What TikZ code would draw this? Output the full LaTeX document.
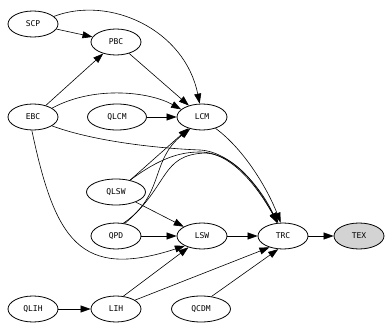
\documentclass[tikz,border=0pt]{standalone}
\usepackage{fontspec}
\newfontfamily\gvfont{DejaVu Sans Mono}
\usetikzlibrary{shapes.geometric,arrows.meta}
\definecolor{texgray}{HTML}{D3D3D3}
\begin{document}
\begin{tikzpicture}[x=1pt,y=-1pt,
  gv/.style={ellipse,draw,line width=0.8pt,minimum width=50pt,minimum height=26pt,inner sep=0pt,font=\gvfont\fontsize{8}{8}\selectfont},
  wide/.style={minimum width=59pt},
  edge/.style={line width=0.6pt,-{Triangle[length=10pt,width=7pt]}}]
\useasboundingbox (0,0) rectangle (389,329);
\node[gv] (SCP) at (33,24) {SCP};
\node[gv] (PBC) at (116,42) {PBC};
\node[gv] (EBC) at (33,117) {EBC};
\node[gv,wide] (QLCM) at (117,117) {QLCM};
\node[gv] (LCM) at (202,117) {LCM};
\node[gv,wide] (QLSW) at (116,192) {QLSW};
\node[gv] (QPD) at (116,236) {QPD};
\node[gv] (LSW) at (202,236) {LSW};
\node[gv] (TRC) at (283,236) {TRC};
\node[gv,fill=texgray] (TEX) at (359,236) {TEX};
\node[gv] (QLIH) at (33,309) {QLIH};
\node[gv] (LIH) at (116,309) {LIH};
\node[gv,wide] (QCDM) at (201,309) {QCDM};

\draw[edge] (SCP) -- (PBC);
\draw[edge] (SCP.20) .. controls (110,-5) and (185,30) .. (LCM.100);
\draw[edge] (PBC) -- (LCM);
\draw[edge] (EBC) -- (PBC);
\draw[edge] (EBC.25) .. controls (95,85) and (150,92) .. (LCM.160);
\draw[edge] (QLCM) -- (LCM);
\draw[edge] (EBC.-25) .. controls (90,140) and (150,148) .. (200,150) .. controls (235,152) and (265,195) .. (TRC.115);
\draw[edge] (EBC.-95) .. controls (55,240) and (80,280) .. (LSW.-150);
\draw[edge] (QLSW.40) -- (LCM.-140);
\draw[edge] (QLSW) -- (LSW);
\draw[edge] (QLSW.40) .. controls (160,158) and (180,152) .. (200,152) .. controls (235,152) and (262,195) .. (TRC.112);
\draw[edge] (QPD.60) .. controls (165,195) and (150,160) .. (LCM.-135);
\draw[edge] (QPD.55) .. controls (170,185) and (160,155) .. (205,153) .. controls (240,155) and (262,195) .. (TRC.110);
\draw[edge] (QPD) -- (LSW);
\draw[edge] (LCM.-40) .. controls (245,150) and (268,190) .. (TRC.100);
\draw[edge] (LSW) -- (TRC);
\draw[edge] (TRC) -- (TEX);
\draw[edge] (QLIH) -- (LIH);
\draw[edge] (LIH.60) -- (LSW.-140);
\draw[edge] (LIH.25) -- (TRC.-140);
\draw[edge] (QCDM.50) -- (TRC.-110);
\end{tikzpicture}
\end{document}
